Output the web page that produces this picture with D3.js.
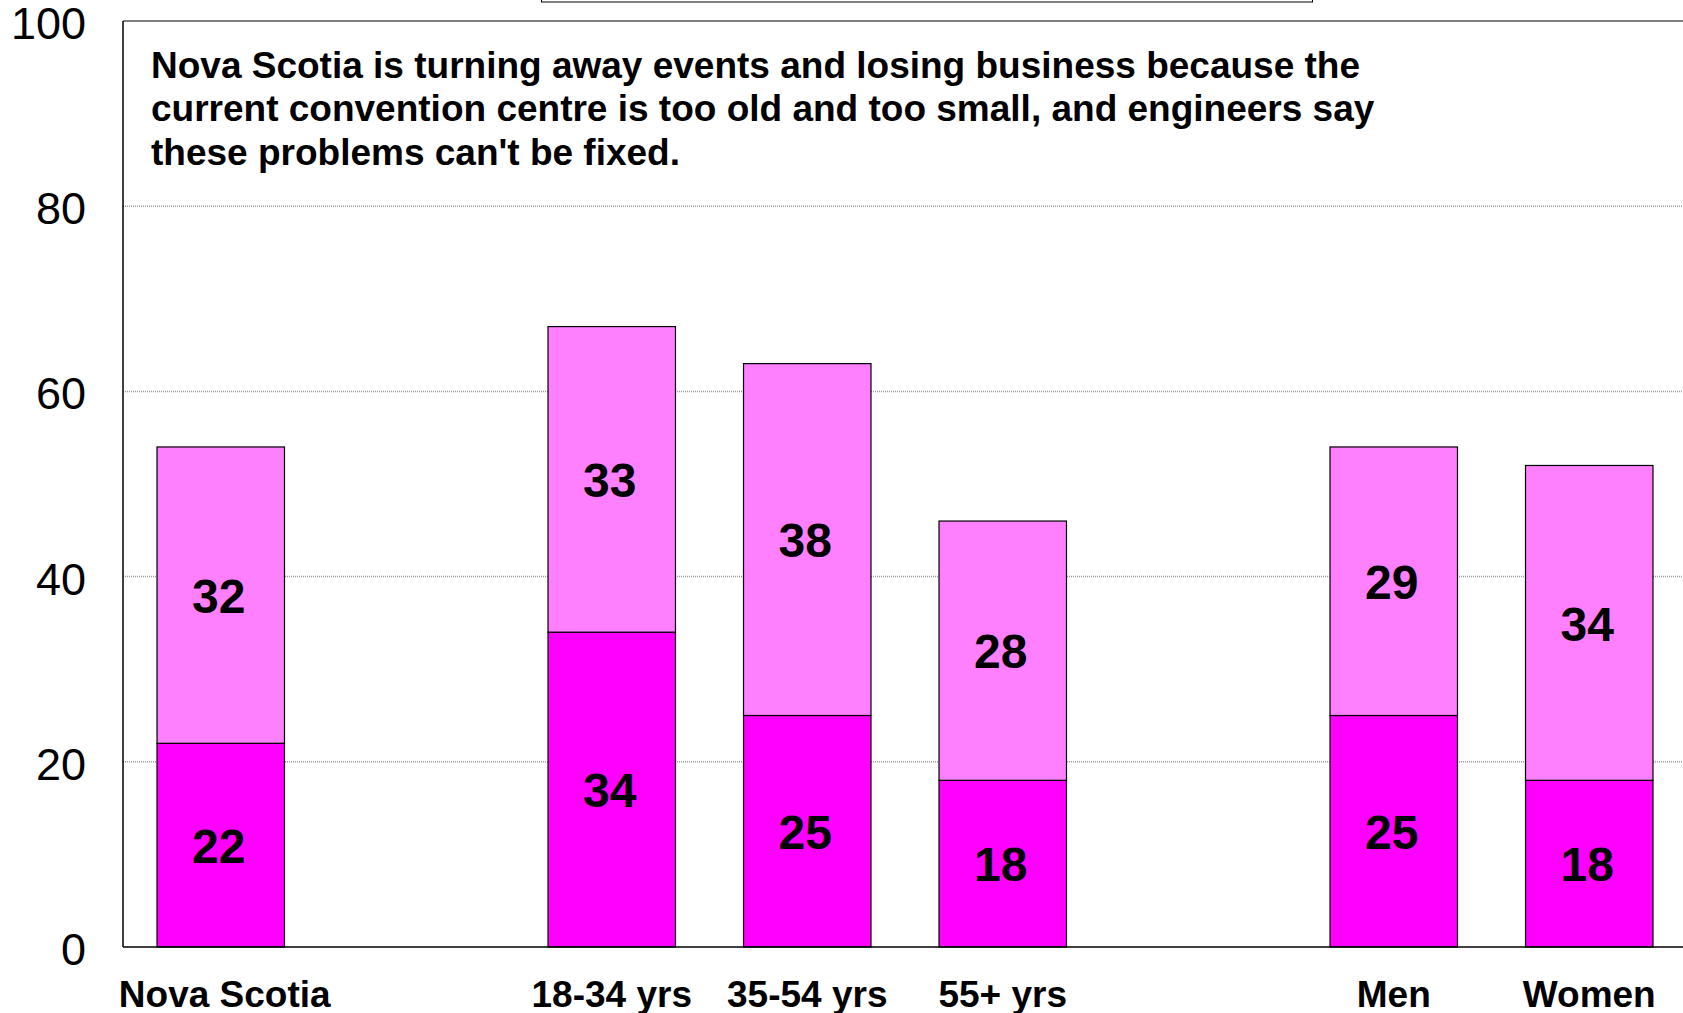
<!DOCTYPE html>
<html>
<head>
<meta charset="utf-8">
<script src="https://cdn.jsdelivr.net/npm/d3@7"></script>
<style>
  body { margin: 0; background: #fff; overflow: hidden; }
  svg text { font-family: "Liberation Sans", Arial, sans-serif; }
</style>
</head>
<body>
<div id="chart"></div>
<script>
// ---------- DATA ----------
var slots = ["Nova Scotia", "gap1", "18-34 yrs", "35-54 yrs", "55+ yrs", "gap2", "Men", "Women"];
var categories = ["Nova Scotia", "18-34 yrs", "35-54 yrs", "55+ yrs", "Men", "Women"];
var strongValues = [22, 34, 25, 18, 25, 18];
var someValues = [32, 33, 38, 28, 29, 34];
var yTicks = [0, 20, 40, 60, 80, 100];
var titleLines = [
    "Nova Scotia is turning away events and losing business because the",
    "current convention centre is too old and too small, and engineers say",
    "these problems can't be fixed."
];

// ---------- PAGE ----------
var width = 1683, height = 1013;
var plotLeft = 123, plotTop = 21, plotBottom = 947;

var svg = d3.select('#chart').append('svg')
    .attr('width', width)
    .attr('height', height);

var x = d3.scaleBand()
    .domain(slots)
    .range([plotLeft, plotLeft + 1564])
    .paddingInner(0.348)
    .paddingOuter(0.174);

var y = d3.scaleLinear()
    .domain([0, 100])
    .range([plotBottom, plotTop]);

// legend box peeking in at the top (cut off)
svg.append('rect')
    .attr('x', 541.5).attr('y', -40)
    .attr('width', 771).attr('height', 42)
    .attr('fill', '#fff')
    .attr('stroke', '#000')
    .attr('stroke-width', 1);

// gridlines
svg.selectAll('.grid')
    .data(yTicks.filter(function(d){ return d > 0 && d < 100; }))
    .enter()
    .append('line')
        .attr('x1', plotLeft).attr('x2', width)
        .attr('y1', function(d){ return y(d); })
        .attr('y2', function(d){ return y(d); })
        .attr('stroke', '#999')
        .attr('stroke-width', 1.5)
        .attr('stroke-dasharray', '1,1');

// plot frame top
svg.append('line')
    .attr('x1', plotLeft).attr('x2', width)
    .attr('y1', y(100)).attr('y2', y(100))
    .attr('stroke', '#555')
    .attr('stroke-width', 1.5);

// y tick labels
svg.selectAll('.ytick')
    .data(yTicks)
    .enter()
    .append('text')
        .attr('x', 86)
        .attr('y', function(d){ return y(d); })
        .attr('dy', '0.4em')
        .attr('text-anchor', 'end')
        .attr('font-size', 45)
        .text(function(d){ return d; });

// bars
var rows = categories.map(function(c, i){
    return {cat: c, strong: strongValues[i], some: someValues[i]};
});

var g = svg.selectAll('.bar')
    .data(rows)
    .enter()
    .append('g');

g.append('rect')
    .attr('x', function(d){ return x(d.cat); })
    .attr('width', x.bandwidth())
    .attr('y', function(d){ return y(d.strong); })
    .attr('height', function(d){ return y(0) - y(d.strong); })
    .attr('fill', '#ff00ff')
    .attr('stroke', '#000')
    .attr('stroke-width', 1.2);

g.append('rect')
    .attr('x', function(d){ return x(d.cat); })
    .attr('width', x.bandwidth())
    .attr('y', function(d){ return y(d.strong + d.some); })
    .attr('height', function(d){ return y(d.strong) - y(d.strong + d.some); })
    .attr('fill', '#ff80ff')
    .attr('stroke', '#000')
    .attr('stroke-width', 1.2);

g.append('text')
    .attr('x', function(d){ return x(d.cat) + x.bandwidth() / 2 - 2; })
    .attr('y', function(d){ return y(d.strong / 2); })
    .attr('dy', '0.37em')
    .attr('text-anchor', 'middle')
    .attr('font-size', 48)
    .attr('font-weight', 'bold')
    .text(function(d){ return d.strong; });

g.append('text')
    .attr('x', function(d){ return x(d.cat) + x.bandwidth() / 2 - 2; })
    .attr('y', function(d){ return y(d.strong + d.some / 2); })
    .attr('dy', '0.37em')
    .attr('text-anchor', 'middle')
    .attr('font-size', 48)
    .attr('font-weight', 'bold')
    .text(function(d){ return d.some; });

// axes lines
svg.append('line')
    .attr('x1', plotLeft).attr('x2', plotLeft)
    .attr('y1', y(100)).attr('y2', y(0))
    .attr('stroke', '#000').attr('stroke-width', 1.5);
svg.append('line')
    .attr('x1', plotLeft).attr('x2', width)
    .attr('y1', y(0)).attr('y2', y(0))
    .attr('stroke', '#000').attr('stroke-width', 1.5);

// category labels
svg.selectAll('.xlab')
    .data(categories)
    .enter()
    .append('text')
        .attr('x', function(d){ return x(d) + x.bandwidth() / 2 + (d == "Nova Scotia" ? 4 : 0); })
        .attr('y', 1006.5)
        .attr('text-anchor', 'middle')
        .attr('font-size', 37)
        .attr('font-weight', 'bold')
        .text(function(d){ return d; });

// statement text inside the plot
svg.selectAll('.title')
    .data(titleLines)
    .enter()
    .append('text')
        .attr('x', 151)
        .attr('y', function(d, i){ return 77.5 + i * 43.5; })
        .attr('font-size', 37)
        .attr('font-weight', 'bold')
        .text(function(d){ return d; });
</script>
</body>
</html>
